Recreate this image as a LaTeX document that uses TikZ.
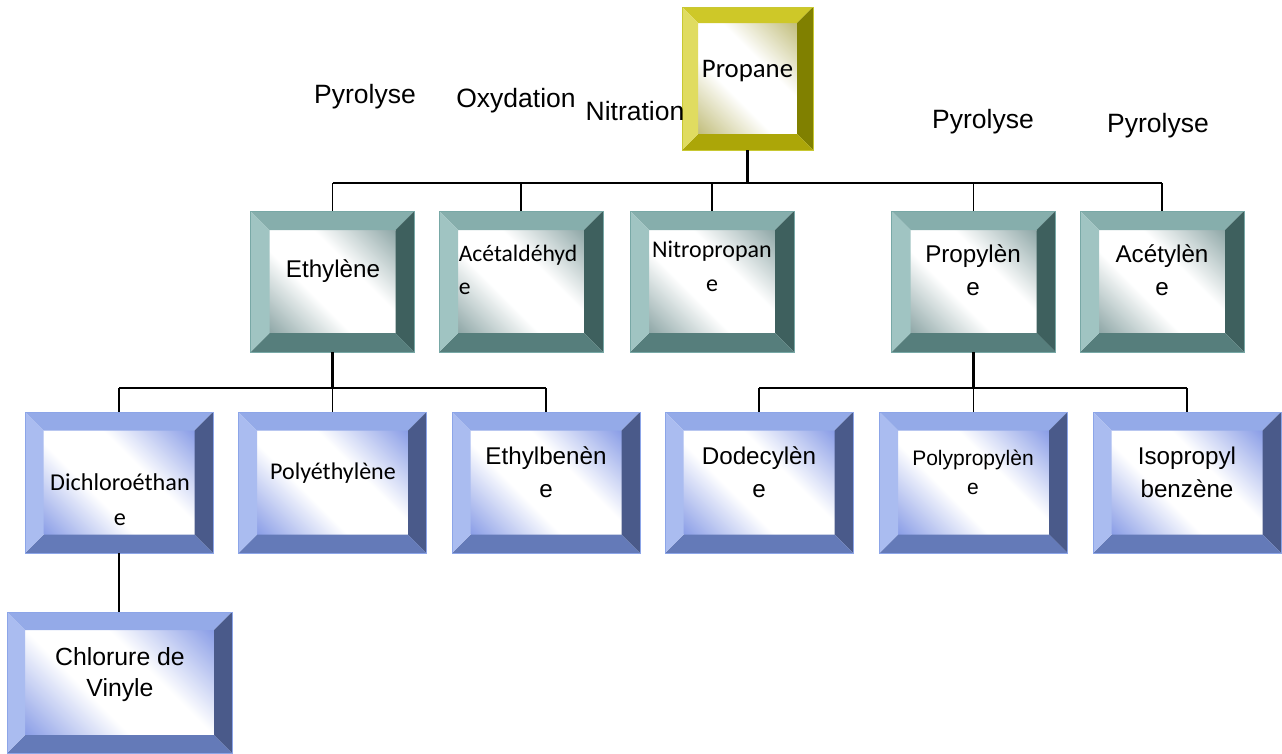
\documentclass[tikz,border=0pt]{standalone}
\usepackage{fontspec}
\setmainfont{Liberation Sans}
\newfontfamily\calib{Carlito}
\usetikzlibrary{calc}

\definecolor{yelTop}{RGB}{206,200,40}
\definecolor{yelLeft}{RGB}{224,220,96}
\definecolor{yelRight}{RGB}{128,128,0}
\definecolor{yelBot}{RGB}{172,166,8}
\definecolor{yelLine}{RGB}{200,200,50}
\definecolor{yelTint}{RGB}{192,188,120}
\definecolor{teaTop}{RGB}{134,174,172}
\definecolor{teaLeft}{RGB}{160,196,194}
\definecolor{teaRight}{RGB}{62,96,94}
\definecolor{teaBot}{RGB}{86,126,124}
\definecolor{teaLine}{RGB}{120,168,166}
\definecolor{teaTint}{RGB}{140,165,165}
\definecolor{bluTop}{RGB}{148,170,232}
\definecolor{bluLeft}{RGB}{170,188,240}
\definecolor{bluRight}{RGB}{74,90,138}
\definecolor{bluBot}{RGB}{100,122,184}
\definecolor{bluLine}{RGB}{140,165,232}
\definecolor{bluTint}{RGB}{135,155,230}

\pgfdeclarehorizontalshading{yelshade}{100bp}{color(0bp)=(yelTint); color(14bp)=(yelTint); color(40bp)=(white); color(60bp)=(white); color(86bp)=(yelTint); color(100bp)=(yelTint)}
\pgfdeclarehorizontalshading{teashade}{100bp}{color(0bp)=(teaTint); color(14bp)=(teaTint); color(40bp)=(white); color(60bp)=(white); color(86bp)=(teaTint); color(100bp)=(teaTint)}
\pgfdeclarehorizontalshading{blushade}{100bp}{color(0bp)=(bluTint); color(14bp)=(bluTint); color(40bp)=(white); color(60bp)=(white); color(86bp)=(bluTint); color(100bp)=(bluTint)}

\tikzset{
  bevbox/.style 2 args={draw=#1Line, line width=0.7pt, inner sep=0pt,
    path picture={
      \path (path picture bounding box.north west) coordinate (bNW)
            (path picture bounding box.north east) coordinate (bNE)
            (path picture bounding box.south east) coordinate (bSE)
            (path picture bounding box.south west) coordinate (bSW);
      \path ($(bNW)+(#2,-#2)$) coordinate (iNW)
            ($(bNE)+(-#2,-#2)$) coordinate (iNE)
            ($(bSE)+(-#2,#2)$) coordinate (iSE)
            ($(bSW)+(#2,#2)$) coordinate (iSW);
      \shade[shading=#1shade, shading angle=45] (iNW) rectangle (iSE);
      \fill[#1Top] (bNW) -- (bNE) -- (iNE) -- (iNW) -- cycle;
      \fill[#1Right] (bNE) -- (bSE) -- (iSE) -- (iNE) -- cycle;
      \fill[#1Bot] (bSE) -- (bSW) -- (iSW) -- (iSE) -- cycle;
      \fill[#1Left] (bSW) -- (bNW) -- (iNW) -- (iSW) -- cycle;
    }},
  rowtwo/.style={bevbox={tea}{19pt}, minimum width=164pt, minimum height=141pt},
  rowthree/.style={bevbox={blu}{18.5pt}, minimum width=188pt, minimum height=141pt},
  lbl/.style={font=\fontsize{26.5}{30}\selectfont, inner sep=0pt, anchor=base},
  ta/.style={font=\fontsize{24.2}{33}\selectfont, align=center, inner sep=0pt},
  tc/.style={font=\calib\fontsize{24}{34}\selectfont, align=center, inner sep=0pt},
  trunk/.style={line width=2.4pt},
  stem/.style={line width=1.5pt},
}

\begin{document}
\begin{tikzpicture}[x=1pt,y=-1pt]
\useasboundingbox (0,0) rectangle (1282,753);

% boxes
\node[bevbox={yel}{16pt}, minimum width=131pt, minimum height=143pt] (pro) at (747.5,78.5) {};
\node[rowtwo] (eth) at (332.5,281.5) {};
\node[rowtwo] (ace) at (521,281.5) {};
\node[rowtwo] (nit) at (712,281.5) {};
\node[rowtwo] (pyl) at (973.5,281.5) {};
\node[rowtwo] (acy) at (1162,281.5) {};
\node[rowthree] (dic) at (119,482.5) {};
\node[rowthree] (pol) at (332.5,482.5) {};
\node[rowthree] (ebz) at (546,482.5) {};
\node[rowthree] (dod) at (759,482.5) {};
\node[rowthree] (ppl) at (973.5,482.5) {};
\node[rowthree] (iso) at (1187,482.5) {};
\node[bevbox={blu}{18pt}, minimum width=225pt, minimum height=141pt] (chl) at (119.5,682.5) {};

% box texts
\node[tc, font=\calib\fontsize{26.8}{30}\selectfont] (pro-t) at (747.5,71) {Propane};
\node[ta] (eth-t) at (333,271) {Ethylène};
\node[tc, align=left, font=\calib\fontsize{23.6}{33}\selectfont] (ace-t) at (518,270) {Acétaldéhyd\\e};
\node[tc] (nit-t) at (712,266) {Nitropropan\\e};
\node[ta] (pyl-t) at (973,270) {Propylèn\\e};
\node[ta] (acy-t) at (1162,270) {Acétylèn\\e};
\node[tc, font=\calib\fontsize{24.2}{35}\selectfont] (dic-t) at (120,500) {Dichloroéthan\\e};
\node[tc] (pol-t) at (333,473.5) {Polyéthylène};
\node[ta] (ebz-t) at (546,472) {Ethylbenèn\\e};
\node[ta] (dod-t) at (759,472) {Dodecylèn\\e};
\node[ta, font=\fontsize{21}{29}\selectfont] (ppl-t) at (973,472) {Polypropylèn\\e};
\node[ta] (iso-t) at (1187,472) {Isopropyl\\benzène};
\node[ta, font=\fontsize{24.8}{31.5}\selectfont] (chl-t) at (120,674.5) {Chlorure de\\Vinyle};

% reaction labels
\node[lbl] (l1) at (365,103) {Pyrolyse};
\node[lbl] (l2) at (516,107) {Oxydation};
\node[lbl] (l3) at (635,120) {Nitration};
\node[lbl] (l4) at (983,128) {Pyrolyse};
\node[lbl] (l5) at (1158,132) {Pyrolyse};

% connectors
\coordinate (busA) at (747.5,183);
\coordinate (busB) at (332.5,388);
\coordinate (busC) at (973.5,388);
\draw[trunk] (pro.south) -- (busA);
\draw[trunk] (eth.north |- busA) -- (acy.north |- busA);
\foreach \n in {eth,ace,nit,pyl,acy} \draw[stem] (\n.north) -- (\n.north |- busA);
\draw[trunk] (eth.south) -- (busB);
\draw[trunk] (dic.north |- busB) -- (ebz.north |- busB);
\foreach \n in {dic,pol,ebz} \draw[stem] (\n.north) -- (\n.north |- busB);
\draw[trunk] (pyl.south) -- (busC);
\draw[trunk] (dod.north |- busC) -- (iso.north |- busC);
\foreach \n in {dod,ppl,iso} \draw[stem] (\n.north) -- (\n.north |- busC);
\draw[stem] (dic.south) -- (dic.south |- chl.north);
\end{tikzpicture}
\end{document}
